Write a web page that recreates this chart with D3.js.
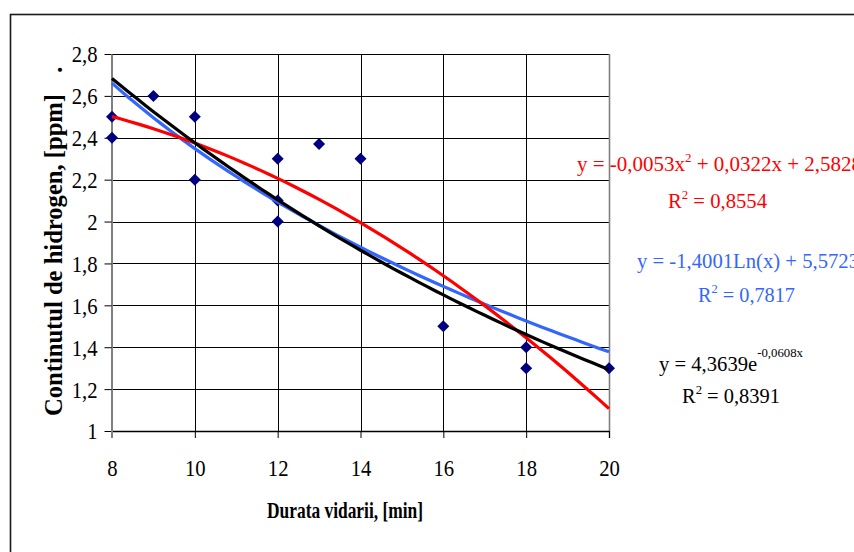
<!DOCTYPE html>
<html>
<head>
<meta charset="utf-8">
<script src="https://cdn.jsdelivr.net/npm/d3@7"></script>
<style>
  html, body { margin: 0; padding: 0; background: #fff; }
  svg { display: block; }
  text { font-family: "Liberation Serif", "Times New Roman", serif; }
</style>
</head>
<body>
<svg id="chart" width="854" height="552"></svg>
<script>
// Measurements: vacuum duration (min) and hydrogen content (ppm)
const durationMin = [8, 8, 9, 10, 10, 12, 12, 12, 13, 14, 16, 18, 18, 20];
const hydrogenPpm = [2.5, 2.4, 2.6, 2.5, 2.2, 2.3, 2.1, 2.0, 2.37, 2.3, 1.5, 1.4, 1.3, 1.3];

// Axis ticks
const xTicks = [8, 10, 12, 14, 16, 18, 20];
const yTicks = [1, 1.2, 1.4, 1.6, 1.8, 2, 2.2, 2.4, 2.6, 2.8];

// Trendline coefficients
const polyCoef = [-0.0053, 0.0322, 2.5828]; // a*x^2 + b*x + c
const logCoef = [-1.4001, 5.5723];           // a*ln(x) + b
const expCoef = [4.3639, -0.0608];           // a*e^(b*x)
const rSquared = ["0,8554", "0,7817", "0,8391"];

const svg = d3.select("#chart");
const plot = { left: 112, right: 609, top: 54, bottom: 431 };

const x = d3.scaleLinear().domain([8, 20]).range([plot.left, plot.right]);
const y = d3.scaleLinear().domain([1, 2.8]).range([plot.bottom, plot.top]);

const fmtRaw = d3.formatLocale({ decimal: ",", thousands: ".", grouping: [3], currency: ["", ""] }).format("~g");
const fmt = v => fmtRaw(v).replace("\u2212", "-");

// outer chart frame
svg.append("rect")
  .attr("x", 10.5).attr("y", 14.5).attr("width", 1000).attr("height", 1000)
  .attr("fill", "#fff").attr("stroke", "#1a1a1a").attr("stroke-width", 1.6);

// horizontal gridlines
svg.append("g").selectAll("line").data(yTicks.filter(v => v > 1)).join("line")
  .attr("x1", plot.left).attr("x2", plot.right)
  .attr("y1", d => Math.round(y(d)) + 0.5).attr("y2", d => Math.round(y(d)) + 0.5)
  .attr("stroke", "#000").attr("stroke-width", 1);

// vertical gridlines
svg.append("g").selectAll("line").data(xTicks.filter(v => v > 8 && v < 20)).join("line")
  .attr("x1", d => Math.round(x(d)) + 0.5).attr("x2", d => Math.round(x(d)) + 0.5)
  .attr("y1", plot.top).attr("y2", plot.bottom)
  .attr("stroke", "#000").attr("stroke-width", 1);

// right border of the plot area
svg.append("line")
  .attr("x1", plot.right + 0.5).attr("x2", plot.right + 0.5)
  .attr("y1", plot.top).attr("y2", plot.bottom + 7)
  .attr("stroke", "#808080").attr("stroke-width", 1.6);

const serif = '"Liberation Serif","Times New Roman",serif';

// x axis
const gx = svg.append("g")
  .attr("transform", `translate(0,${plot.bottom})`)
  .call(d3.axisBottom(x).tickValues(xTicks).tickSize(7).tickSizeOuter(0).tickFormat(fmt));
gx.select(".domain").attr("stroke", "#000").attr("stroke-width", 1.6);
gx.selectAll(".tick line").attr("stroke", "#000");
gx.selectAll(".tick text")
  .attr("y", 0).attr("dy", null)
  .attr("transform", "translate(0,45) scale(0.88,1)")
  .attr("font-size", 23.5).attr("fill", "#000")
  .attr("font-family", serif);

// y axis
const gy = svg.append("g")
  .attr("transform", `translate(${plot.left - 0.5},0)`)
  .call(d3.axisLeft(y).tickValues(yTicks).tickSize(7).tickSizeOuter(0).tickFormat(fmt));
gy.select(".domain").attr("stroke", "#808080").attr("stroke-width", 2);
gy.selectAll(".tick line").attr("stroke", "#000");
gy.selectAll(".tick text")
  .attr("x", 0).attr("dy", "0.34em")
  .attr("transform", "translate(-14,0) scale(0.88,1)")
  .attr("font-size", 23.5).attr("fill", "#000")
  .attr("font-family", serif);
// extend the value axis down past the category axis
gy.append("line").attr("x1", 0.5).attr("x2", 0.5)
  .attr("y1", plot.bottom).attr("y2", plot.bottom + 7)
  .attr("stroke", "#808080").attr("stroke-width", 2);

// data markers
const points = durationMin.map((d, i) => [d, hydrogenPpm[i]]);
const diamond = d3.symbol(d3.symbolSquare, 72);
svg.append("g").selectAll("path").data(points).join("path")
  .attr("d", diamond)
  .attr("transform", d => `translate(${x(d[0])},${y(d[1])}) rotate(45)`)
  .attr("fill", "#000080");

// trendlines
const xs = x.ticks(80);
const line = d3.line().x(d => x(d[0])).y(d => y(d[1]));
const trends = [
  { color: "#3366FF", f: v => logCoef[0] * Math.log(v) + logCoef[1] },
  { color: "#FF0000", f: v => polyCoef[0] * v * v + polyCoef[1] * v + polyCoef[2] },
  { color: "#000000", f: v => expCoef[0] * Math.exp(expCoef[1] * v) }
];
svg.append("g").selectAll("path").data(trends).join("path")
  .attr("d", t => line(xs.map(v => [v, t.f(v)])))
  .attr("fill", "none").attr("stroke", t => t.color)
  .attr("stroke-width", 3.2).attr("stroke-linejoin", "round");

// trendline equations
function equation(parts, px, py, width, color) {
  const t = svg.append("text").attr("x", px).attr("y", py)
    .attr("font-size", 21).attr("fill", color).attr("xml:space", "preserve")
    .attr("textLength", width).attr("lengthAdjust", "spacingAndGlyphs");
  parts.forEach(p => {
    const s = t.append("tspan").text(p.text);
    if (p.sup) s.attr("font-size", p.size || 13).attr("dy", -p.sup);
    if (p.down) s.attr("dy", p.down);
  });
  return t;
}
equation([
  { text: `y = ${fmt(polyCoef[0])}x` },
  { text: "2", sup: 9 },
  { text: ` + ${fmt(polyCoef[1])}x + ${fmt(polyCoef[2])}`, down: 9 }
], 577, 171, 285, "#FF0000");
equation([{ text: "R" }, { text: "2", sup: 9 }, { text: ` = ${rSquared[0]}`, down: 9 }], 668, 208, 99, "#FF0000");

equation([{ text: `y = ${fmt(logCoef[0])}Ln(x) + ${fmt(logCoef[1])}` }], 637, 268, 222, "#3366FF");
equation([{ text: "R" }, { text: "2", sup: 9 }, { text: ` = ${rSquared[1]}`, down: 9 }], 698, 302, 97, "#3366FF");

equation([{ text: `y = ${fmt(expCoef[0])}e` }, { text: `${fmt(expCoef[1])}x`, sup: 14 }], 659, 371, 144, "#000");
equation([{ text: "R" }, { text: "2", sup: 9 }, { text: ` = ${rSquared[2]}`, down: 9 }], 682, 403, 98, "#000");

// axis titles
svg.append("text")
  .attr("x", 267).attr("y", 518)
  .attr("font-size", 24).attr("font-weight", "bold")
  .attr("textLength", 156).attr("lengthAdjust", "spacingAndGlyphs")
  .text("Durata vidarii, [min]");

const yTitle = svg.append("text")
  .attr("transform", "translate(62,416) rotate(-90)")
  .attr("font-size", 26).attr("font-weight", "bold");
yTitle.append("tspan").attr("x", 0)
  .attr("textLength", 322).attr("lengthAdjust", "spacingAndGlyphs")
  .text("Continutul de hidrogen, [ppm]");
yTitle.append("tspan").attr("x", 343).text(".");
</script>
</body>
</html>
